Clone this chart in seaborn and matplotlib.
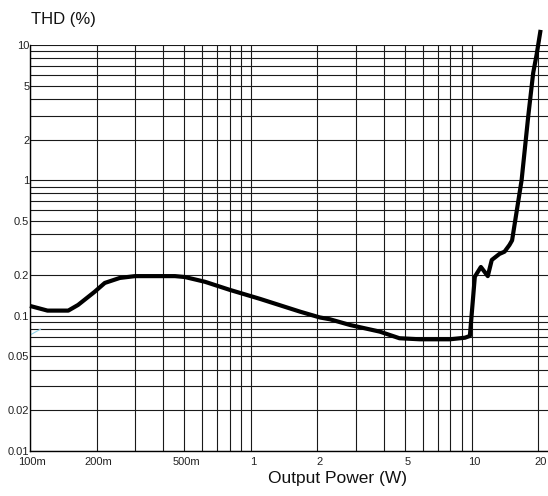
import matplotlib
matplotlib.use("Agg")
import matplotlib.pyplot as plt
import matplotlib.ticker as mticker
import matplotlib.transforms as mtransforms
import numpy as np
import pandas as pd
import seaborn as sns

# THD+N versus output power
power_w = [0.1, 0.12, 0.149, 0.165, 0.196, 0.218, 0.255, 0.299, 0.35, 0.453,
           0.502, 0.619, 0.803, 1.10, 1.67, 2.05, 2.28, 2.81, 3.83, 4.70,
           5.82, 7.95, 9.30, 9.79, 10.31, 10.98, 11.8, 12.3, 13.33, 14.05,
           14.79, 15.2, 16.79, 17.98, 18.94, 19.62, 20.46]
thd_pct = [0.118, 0.109, 0.109, 0.120, 0.150, 0.1745, 0.190, 0.196, 0.196, 0.196,
           0.193, 0.178, 0.155, 0.133, 0.107, 0.097, 0.094, 0.0853, 0.0762, 0.0681,
           0.0669, 0.0669, 0.0687, 0.0708, 0.194, 0.229, 0.196, 0.258, 0.286, 0.297,
           0.333, 0.36, 1.007, 2.96, 6.22, 8.45, 12.93]

# short second trace near the left edge
aux_power_w = [0.1, 0.1118]
aux_thd_pct = [0.0719, 0.0796]

x_ticks = [0.1, 0.2, 0.5, 1, 2, 5, 10, 20]
x_labels = ["100m", "200m", "500m", "1", "2", "5", "10", "20"]
y_ticks = [0.01, 0.02, 0.05, 0.1, 0.2, 0.5, 1, 2, 5, 10]
y_labels = ["0.01", "0.02", "0.05", "0.1", "0.2", "0.5", "1", "2", "5", "10"]

sns.set_style("white")
plt.rcParams["font.family"] = ["Liberation Sans", "DejaVu Sans"]

fig = plt.figure(figsize=(5.48, 4.96), dpi=100)
ax = fig.add_axes([30 / 548, 45 / 496, 518 / 548, 406 / 496])

df = pd.DataFrame({"power": power_w, "thd": thd_pct})
aux = pd.DataFrame({"power": aux_power_w, "thd": aux_thd_pct})

ax.set_xscale("log")
ax.set_yscale("log")
ax.set_xlim(0.1, 22.1)
ax.set_ylim(0.01, 10)

# grid on every decade subdivision
ax.xaxis.set_minor_locator(mticker.LogLocator(base=10, subs=np.arange(2, 10)))
ax.yaxis.set_minor_locator(mticker.LogLocator(base=10, subs=np.arange(2, 10)))
ax.xaxis.set_minor_formatter(mticker.NullFormatter())
ax.yaxis.set_minor_formatter(mticker.NullFormatter())
ax.set_xticks(x_ticks)
ax.set_xticklabels(x_labels)
ax.set_yticks(y_ticks)
ax.set_yticklabels(y_labels)
ax.grid(True, which="both", color="#1a1a1a", linewidth=0.8)
ax.set_axisbelow(True)

sns.lineplot(data=aux, x="power", y="thd", ax=ax, color="#8fd3e8",
             linewidth=0.8, estimator=None, sort=False)
sns.lineplot(data=df, x="power", y="thd", ax=ax, color="black",
             linewidth=3.0, estimator=None, sort=False, clip_on=False,
             solid_joinstyle="round", solid_capstyle="butt", zorder=5)

ax.tick_params(axis="both", which="both", length=0, labelsize=8, colors="#222222")
ax.tick_params(axis="x", pad=4.5)
ax.tick_params(axis="y", pad=0.5)

# nudge the x tick labels a little to the right
shift = mtransforms.ScaledTranslation(2 / 100, 0, fig.dpi_scale_trans)
for lbl in ax.get_xticklabels():
    lbl.set_transform(lbl.get_transform() + shift)

for side in ("top", "right"):
    ax.spines[side].set_visible(False)
for side in ("left", "bottom"):
    ax.spines[side].set_color("black")
    ax.spines[side].set_linewidth(1.0)

ax.set_ylabel("")
ax.set_xlabel("Output Power (W)", fontsize=12.5, color="#111111")
ax.xaxis.set_label_coords(0.593, -0.05)
ax.xaxis.label.set_verticalalignment("top")

fig.text(31 / 548, 1 - 24 / 496, "THD (%)", fontsize=12, color="#111111",
         ha="left", va="baseline")

fig.savefig("out.png", dpi=100)
